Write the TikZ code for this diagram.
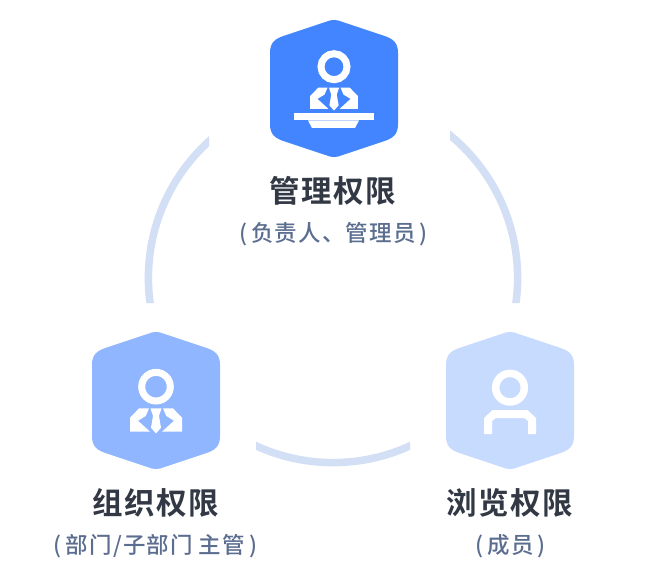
\documentclass[tikz,border=0pt]{standalone}
\usepackage{fontspec}
\newfontfamily\cjkm[LetterSpace=4.5]{Noto Sans CJK SC Bold}
\newfontfamily\cjkr[LetterSpace=5]{Noto Sans CJK SC Medium}
\definecolor{hexa}{HTML}{4285FF}
\definecolor{hexb}{HTML}{8FB6FF}
\definecolor{hexc}{HTML}{C7DBFF}
\definecolor{ringc}{HTML}{D3DFF5}
\definecolor{titlec}{HTML}{323945}
\definecolor{subc}{HTML}{5C6E90}
\tikzset{
  titlelabel/.style={inner sep=0pt,text=titlec,font=\cjkm\fontsize{30.5}{35}\selectfont},
  sublabel/.style={inner sep=0pt,text=subc,font=\cjkr\fontsize{22.5}{27}\selectfont}
}
\newcommand{\opar}{(\kern4pt\relax}
\newcommand{\cpar}{\kern4pt)}
\newcommand{\hexshape}[3]{%
  \fill[#3,shift={(#1,#2)}] (-64,0) -- (-64,-35.5)
    .. controls (-64,-46) and (-59,-49.5) .. (-50.7,-52.5)
    -- (-7,-67) .. controls (-3,-69) and (3,-69) .. (7,-67)
    -- (50.7,-52.5) .. controls (59,-49.5) and (64,-46) .. (64,-35.5)
    -- (64,35.5) .. controls (64,46) and (59,49.5) .. (50.7,52.5)
    -- (7,67) .. controls (3,69) and (-3,69) .. (-7,67)
    -- (-50.7,52.5) .. controls (-59,49.5) and (-64,46) .. (-64,35.5) -- cycle;}
\newcommand{\suitshape}[3]{%
  \begin{scope}[shift={(#1,#2)},scale=#3]
  \fill[white] (-26,0) -- (-26,14) -- (-17,23.3) -- (-7,23.3) -- (-10.3,15.7) -- (-18,11) -- (-6,0) -- cycle;
  \fill[white] (26,0) -- (26,14) -- (17,23.3) -- (7,23.3) -- (10.3,15.7) -- (18,11) -- (6,0) -- cycle;
  \fill[white] (-5.5,23.3) -- (5.5,23.3) -- (3,15.7) -- (5,4) -- (0,-1.7) -- (-5,4) -- (-3,15.7) -- cycle;
  \end{scope}}
\begin{document}
\begin{tikzpicture}[x=1pt,y=1pt]
\useasboundingbox (0,0) rectangle (664,-580);
\fill[white] (0,0) rectangle (664,-580);
% ring segments
\begin{scope}
\clip (450,-100) rectangle (560,-303) (110,-100) rectangle (209,-303) (256,-400) rectangle (410,-480);
\draw[ringc,line width=7.5pt] (333,-278) circle[radius=184.6pt];
\end{scope}
% top
\hexshape{334}{-88.5}{hexa}
\draw[white,line width=7pt] (334,-66.7) circle[radius=13pt];
\suitshape{334}{-109}{0.92}
\fill[white] (294,-113.5) rectangle (374,-120.5);
\fill[white] (308,-120.5) -- (312,-128) -- (355,-128) -- (359,-120.5) -- cycle;
% left
\hexshape{156}{-400.5}{hexb}
\draw[white,line width=7pt] (156,-386.7) circle[radius=14.3pt];
\suitshape{156}{-431.7}{1}
% right
\hexshape{510}{-400.5}{hexc}
\draw[white,line width=7.5pt] (510,-387.7) circle[radius=14.3pt];
\fill[white] (484,-434) -- (484,-418) -- (492.5,-410) -- (527.5,-410) -- (536,-418) -- (536,-434) -- (528,-434) -- (528,-421) -- (524,-418) -- (496,-418) -- (492,-421) -- (492,-434) -- cycle;
% labels
\node[titlelabel] (t1) at (333,-190.5) {管理权限};
\node[sublabel] (s1) at (333.5,-234) {\opar 负责人、管理员\cpar};
\node[titlelabel] (t2) at (155.5,-502.5) {组织权限};
\node[sublabel] (s2) at (155.5,-546) {\opar 部门/子部门 主管\cpar};
\node[titlelabel] (t3) at (510,-502.5) {浏览权限};
\node[sublabel] (s3) at (510.5,-546) {\opar 成员\cpar};
\end{tikzpicture}
\end{document}
